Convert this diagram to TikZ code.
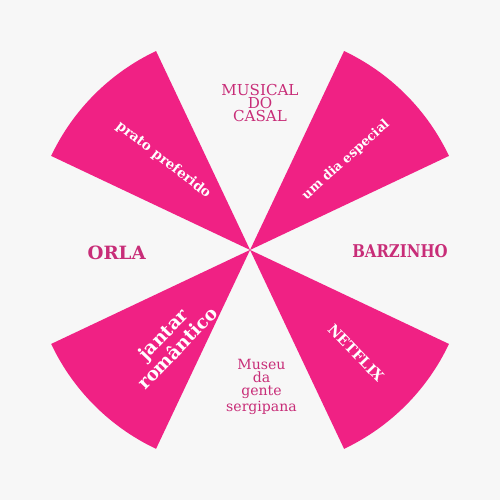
\documentclass[tikz,border=0pt]{standalone}
\usepackage{fontspec}
\setmainfont{DejaVu Serif}
\newfontfamily\narrowfont[FakeStretch=0.85]{DejaVu Serif}
\definecolor{bgc}{HTML}{F7F7F7}
\definecolor{wedge}{HTML}{F02184}
\definecolor{lblc}{HTML}{C82D78}
\begin{document}
\begin{tikzpicture}[scale=0.02,
  wedgefill/.style={fill=wedge},
  inlbl/.style={text=white, inner sep=0pt, align=center},
  outlbl/.style={text=lblc, inner sep=0pt, align=center}]
\fill[bgc] (0,0) rectangle (500,500);
\useasboundingbox (0,0) rectangle (500,500);
\coordinate (c) at (250,250);
\foreach \a in {25.3,115.3,205.3,295.3}{
  \fill[wedgefill] (c) -- ++(\a:220) arc[start angle=\a, delta angle=39.4, radius=220] -- cycle;
}
\node[inlbl, rotate=-38, font=\bfseries\fontsize{7.7}{8}\selectfont] (prato) at (163.5,340) {prato preferido};
\node[inlbl, rotate=42, font=\bfseries\fontsize{7.3}{8}\selectfont] (dia) at (346,340) {um dia especial};
\node[inlbl, rotate=-46, font=\bfseries\fontsize{8.2}{8}\selectfont] (netflix) at (356,147) {NETFLIX};
\node[inlbl, rotate=46, font=\bfseries\fontsize{10.5}{11.5}\selectfont] (jantar) at (170,159) {jantar\\romântico};
\node[outlbl, font=\fontsize{8.6}{7.4}\selectfont] (musical) at (260,397) {MUSICAL\\DO\\CASAL};
\node[outlbl, font=\narrowfont\bfseries\fontsize{10}{10}\selectfont] (barzinho) at (400,249.3) {BARZINHO};
\node[outlbl, font=\bfseries\fontsize{10.4}{10}\selectfont] (orla) at (116.7,247) {ORLA};
\node[outlbl, font=\fontsize{8}{7.4}\selectfont] (museu) at (261.5,113) {Museu\\da\\gente\\sergipana};
\end{tikzpicture}
\end{document}
